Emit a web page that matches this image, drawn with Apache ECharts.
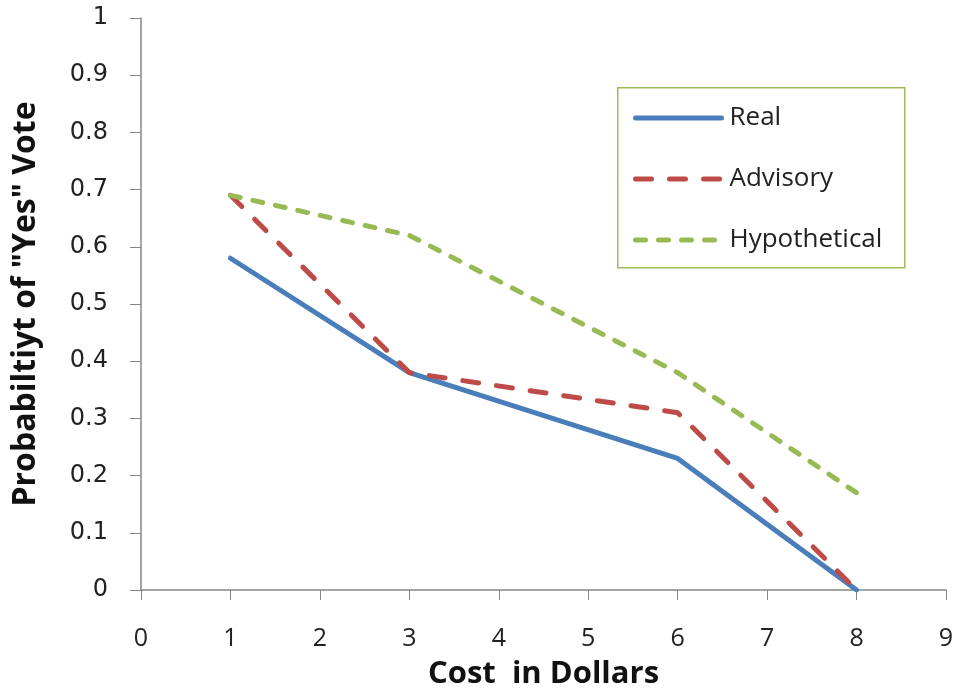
<!DOCTYPE html>
<html>
<head>
<meta charset="utf-8">
<script src="https://cdn.jsdelivr.net/npm/echarts@6/dist/echarts.min.js"></script>
<style>
  html, body { margin: 0; padding: 0; background: #fff; }
  #main { width: 959px; height: 698px; }
</style>
</head>
<body>
<div id="main"></div>
<script>
// cost in dollars
var costs = [1, 3, 6, 8];
// probability of "yes" vote
var realVals = [0.58, 0.38, 0.23, 0];
var advisoryVals = [0.69, 0.38, 0.31, 0];
var hypotheticalVals = [0.69, 0.62, 0.38, 0.17];
var seriesNames = ['Real', 'Advisory', 'Hypothetical'];

function pairs(vals) {
  return costs.map(function (c, i) { return [c, vals[i]]; });
}

var myChart = echarts.init(document.getElementById('main'));

var option = {
  animation: false,
  grid: { left: 141, top: 18, right: 13, bottom: 108 },
  graphic: [{
    type: 'rect',
    left: 617, top: 87,
    shape: { width: 287, height: 180 },
    style: { fill: '#fff', stroke: '#9bbb59', lineWidth: 1.5 },
    z: 10
  }],
  legend: {
    data: seriesNames,
    orient: 'vertical',
    left: 628,
    top: 100,
    itemWidth: 86,
    itemHeight: 20,
    itemGap: 35,
    z: 20,
    itemStyle: { opacity: 0 },
    lineStyle: { width: 5, cap: 'round' },
    textStyle: { fontFamily: 'Open Sans', fontSize: 26, color: '#222', padding: [0, 0, 0, 3] }
  },
  xAxis: {
    type: 'value',
    min: 0, max: 9, interval: 1,
    name: 'Cost  in Dollars',
    nameLocation: 'middle',
    nameGap: 69,
    nameTextStyle: { fontFamily: 'Open Sans', fontWeight: 'bold', fontSize: 31, color: '#111' },
    axisLine: { show: true, lineStyle: { color: '#868686', width: 1.5 } },
    axisTick: { show: true, length: 10, lineStyle: { color: '#868686' } },
    axisLabel: { margin: 36, fontFamily: 'Liberation Sans Narrow, Open Sans', fontSize: 25, color: '#222' },
    splitLine: { show: false }
  },
  yAxis: {
    type: 'value',
    min: 0, max: 1, interval: 0.1,
    name: 'Probabiltiyt of "Yes" Vote',
    nameLocation: 'middle',
    nameGap: 99,
    nameTextStyle: { fontFamily: 'Open Sans', fontWeight: 'bold', fontSize: 32, color: '#111' },
    axisLine: { show: true, lineStyle: { color: '#868686', width: 1.5 } },
    axisTick: { show: true, length: 11, lineStyle: { color: '#868686' } },
    axisLabel: { margin: 33, fontFamily: 'DejaVu Sans', fontSize: 24, color: '#222' },
    splitLine: { show: false }
  },
  series: [
    {
      name: seriesNames[0], type: 'line', symbol: 'none',
      data: pairs(realVals),
      lineStyle: { color: '#4a7ebb', width: 5, cap: 'round', join: 'round' },
      itemStyle: { color: '#4a7ebb' }
    },
    {
      name: seriesNames[1], type: 'line', symbol: 'none',
      data: pairs(advisoryVals),
      lineStyle: { color: '#be4b48', width: 5, type: [16, 18], cap: 'round', join: 'round' },
      itemStyle: { color: '#be4b48' }
    },
    {
      name: seriesNames[2], type: 'line', symbol: 'none',
      data: pairs(hypotheticalVals),
      lineStyle: { color: '#98b954', width: 5, type: [10, 13], cap: 'round', join: 'round' },
      itemStyle: { color: '#98b954' }
    }
  ]
};

myChart.setOption(option);
</script>
</body>
</html>
